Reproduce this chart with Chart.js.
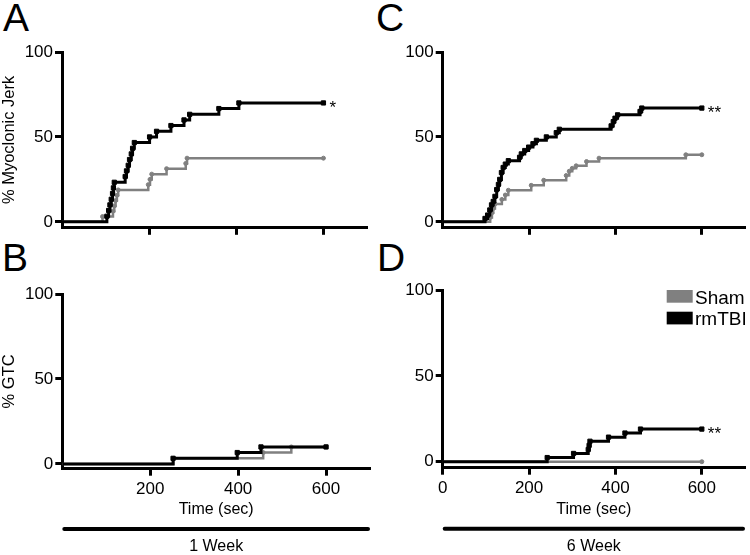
<!DOCTYPE html>
<html>
<head>
<meta charset="utf-8">
<script src="https://cdn.jsdelivr.net/npm/chart.js@4"></script>
<style>
  body { margin: 0; background: #fff; }
  #wrap { position: relative; width: 750px; height: 555px; font-family: 'Liberation Sans', Arial, sans-serif; }
  canvas { position: absolute; }
  .letter { position: absolute; font-size: 39px; line-height: 39px; color: #000; }
</style>
</head>
<body>
<div id="wrap">
  <div class="letter" style="left:3px;top:-2px">A</div>
  <div class="letter" style="left:2px;top:238px">B</div>
  <div class="letter" style="left:376px;top:-2px">C</div>
  <div class="letter" style="left:377px;top:238px">D</div>
  <canvas id="panelA" width="375" height="240" style="left:0;top:0"></canvas>
  <canvas id="panelC" width="375" height="240" style="left:375px;top:0"></canvas>
  <canvas id="panelB" width="375" height="315" style="left:0;top:240px"></canvas>
  <canvas id="panelD" width="375" height="315" style="left:375px;top:240px"></canvas>
</div>
<script>
const grey = '#808080';
const fontFam = "'Liberation Sans', Arial, sans-serif";
Chart.defaults.font.family = fontFam;
Chart.defaults.color = '#000';

const timeTicks = [200, 400, 600];
const timeTicksZero = [0, 200, 400, 600];
const pctTicks = [0, 50, 100];

// A: myoclonic jerk, 1 week
const jerk1ShamT = [0, 93, 117, 120, 123, 126, 129, 198, 202, 206, 240, 284, 287, 600];
const jerk1ShamV = [0, 3.1, 6.3, 9.4, 12.5, 15.6, 18.8, 21.9, 25, 28.1, 31.3, 34.4, 37.5, 37.5];
const jerk1TbiT = [0, 103, 107, 110, 113, 116, 118, 120, 145, 148, 152, 155, 159, 162, 166, 201, 217, 250, 280, 293, 360, 406, 600];
const jerk1TbiV = [0, 3.3, 6.7, 10, 13.3, 16.7, 20, 23.3, 26.7, 30, 33.3, 36.7, 40, 43.3, 46.7, 50, 53.3, 56.7, 60, 63.3, 66.7, 70, 70];

// C: myoclonic jerk, 6 week
const jerk6ShamT = [0, 110, 114, 117, 121, 137, 145, 152, 205, 234, 286, 293, 300, 309, 333, 362, 563, 600];
const jerk6ShamV = [0, 2.6, 5.3, 7.9, 10.5, 13.2, 15.8, 18.6, 21.5, 24.5, 27.3, 29.8, 31.5, 33, 35.5, 37.5, 39.5, 39.5];
const jerk6TbiT = [0, 98, 104, 109, 113, 117, 121, 125, 129, 132, 136, 140, 145, 152, 178, 182, 190, 199, 209, 217, 240, 263, 270, 390, 395, 399, 405, 457, 461, 600];
const jerk6TbiV = [0, 2, 4, 7, 10, 12, 15, 19, 22, 25, 29, 32, 34, 36, 38, 40, 42, 44, 46, 48, 50, 52.5, 54.5, 56.5, 59, 61, 63, 65, 67, 67];

// B: GTC, 1 week
const gtc1ShamT = [0, 253, 457, 521, 600];
const gtc1ShamV = [0, 3.3, 6.7, 10, 10];
const gtc1TbiT = [0, 252, 398, 452, 600];
const gtc1TbiV = [0, 3.3, 6.7, 10, 10];

// D: GTC, 6 week
const gtc6ShamT = [0, 600];
const gtc6ShamV = [0, 0];
const gtc6TbiT = [0, 242, 303, 337, 339, 341, 384, 422, 458, 600];
const gtc6TbiV = [0, 2.4, 4.8, 7.1, 9.5, 11.9, 14.3, 16.7, 19, 19];

function pts(ts, vs) {
  return ts.map((t, i) => ({ x: t, y: vs[i] }));
}

function panel(id, cfg) {
  const extras = {
    id: 'extras',
    afterDraw(chart) {
      const ctx = chart.ctx;
      const area = chart.chartArea;
      const xs = chart.scales.x, ys = chart.scales.y;
      ctx.save();
      ctx.fillStyle = '#000';
      if (cfg.star) {
        const d = chart.data.datasets[0].data;
        const last = d[d.length - 1];
        ctx.font = '17px ' + fontFam;
        ctx.textAlign = 'left';
        ctx.textBaseline = 'alphabetic';
        ctx.fillText(cfg.star, xs.getPixelForValue(last.x) + 6, ys.getPixelForValue(last.y) + 10);
      }
      if (cfg.week) {
        ctx.strokeStyle = '#000';
        ctx.lineWidth = 4;
        ctx.lineCap = 'round';
        ctx.beginPath();
        ctx.moveTo(area.left + 2, cfg.barY);
        ctx.lineTo(area.right - 2, cfg.barY);
        ctx.stroke();
        ctx.font = '16px ' + fontFam;
        ctx.textAlign = 'center';
        ctx.textBaseline = 'middle';
        ctx.fillText(cfg.week, (area.left + area.right) / 2, cfg.barY + 18);
      }
      if (cfg.legend) {
        const items = chart.data.datasets.slice().reverse();
        ctx.font = '19px ' + fontFam;
        ctx.textAlign = 'left';
        ctx.textBaseline = 'alphabetic';
        items.forEach((ds, i) => {
          const top = area.top + i * 21.7;
          ctx.fillStyle = ds.borderColor;
          ctx.fillRect(area.right - 78.3, top, 26, 12.7);
          ctx.fillStyle = '#000';
          ctx.fillText(ds.label, area.right - 50, top + 13.5);
        });
      }
      ctx.restore();
    }
  };

  const axisGrid = { drawOnChartArea: false, drawTicks: true, tickLength: 7, tickWidth: 3, tickColor: '#000' };
  const axisBorder = { display: true, color: '#000', width: 3 };

  return new Chart(document.getElementById(id), {
    type: 'line',
    data: {
      datasets: [
        {
          label: 'rmTBI',
          data: pts(cfg.tbiT, cfg.tbiV),
          borderColor: '#000',
          backgroundColor: '#000',
          borderWidth: 3,
          stepped: true,
          pointStyle: 'rect',
          pointRadius: c => c.dataIndex === 0 ? 0 : 3,
          pointBorderWidth: 1
        },
        {
          label: 'Sham',
          data: pts(cfg.shamT, cfg.shamV),
          borderColor: grey,
          backgroundColor: grey,
          borderWidth: 2.5,
          stepped: true,
          pointStyle: 'circle',
          pointRadius: c => c.dataIndex === 0 ? 0 : 2,
          pointBorderWidth: 1
        }
      ]
    },
    options: {
      responsive: false,
      animation: false,
      events: [],
      layout: { padding: cfg.pad },
      plugins: { legend: { display: false }, tooltip: { enabled: false } },
      scales: {
        x: {
          type: 'linear',
          min: 0,
          max: 700,
          grid: axisGrid,
          border: axisBorder,
          afterBuildTicks: s => { s.ticks = cfg.xTicks.map(v => ({ value: v })); },
          afterFit: s => { s.height = cfg.xHeight; },
          ticks: {
            display: cfg.xLabels,
            autoSkip: false,
            maxRotation: 0,
            padding: 3,
            font: { size: 17 },
            callback: v => String(v)
          },
          title: {
            display: !!cfg.xTitle,
            text: cfg.xTitle || '',
            font: { size: 16 },
            padding: { top: 0, bottom: 1 }
          }
        },
        y: {
          type: 'linear',
          min: cfg.yMin,
          max: 100,
          grid: axisGrid,
          border: axisBorder,
          afterBuildTicks: s => { s.ticks = pctTicks.map(v => ({ value: v })); },
          afterFit: s => { s.width = cfg.yWidth; },
          ticks: {
            padding: 2,
            font: { size: 17 },
            callback: v => String(v)
          },
          title: {
            display: !!cfg.yTitle,
            text: cfg.yTitle || '',
            font: { size: 16.5 },
            padding: 0
          }
        }
      }
    },
    plugins: [extras]
  });
}

panel('panelA', {
  shamT: jerk1ShamT, shamV: jerk1ShamV, tbiT: jerk1TbiT, tbiV: jerk1TbiV,
  pad: { top: 52, right: 8, bottom: 0, left: 0 },
  yWidth: 62, xHeight: 12, yMin: -3.5,
  xTicks: timeTicks, xLabels: false,
  yTitle: '% Myoclonic Jerk', star: '*'
});

panel('panelC', {
  shamT: jerk6ShamT, shamV: jerk6ShamV, tbiT: jerk6TbiT, tbiV: jerk6TbiV,
  pad: { top: 52, right: 5, bottom: 0, left: 0 },
  yWidth: 67.7, xHeight: 12, yMin: -3.5,
  xTicks: timeTicks, xLabels: false,
  star: '**'
});

panel('panelB', {
  shamT: gtc1ShamT, shamV: gtc1ShamV, tbiT: gtc1TbiT, tbiV: gtc1TbiV,
  pad: { top: 54, right: 5, bottom: 35, left: 0 },
  yWidth: 62.3, xHeight: 51.3, yMin: -2.8,
  xTicks: timeTicks, xLabels: true, xTitle: 'Time (sec)',
  yTitle: '% GTC', week: '1 Week', barY: 289
});

panel('panelD', {
  shamT: gtc6ShamT, shamV: gtc6ShamV, tbiT: gtc6TbiT, tbiV: gtc6TbiV,
  pad: { top: 50, right: 5, bottom: 35, left: 0 },
  yWidth: 67.7, xHeight: 52.3, yMin: -3.5,
  xTicks: timeTicksZero, xLabels: true, xTitle: 'Time (sec)',
  star: '**', week: '6 Week', barY: 288.7, legend: true
});
</script>
</body>
</html>
